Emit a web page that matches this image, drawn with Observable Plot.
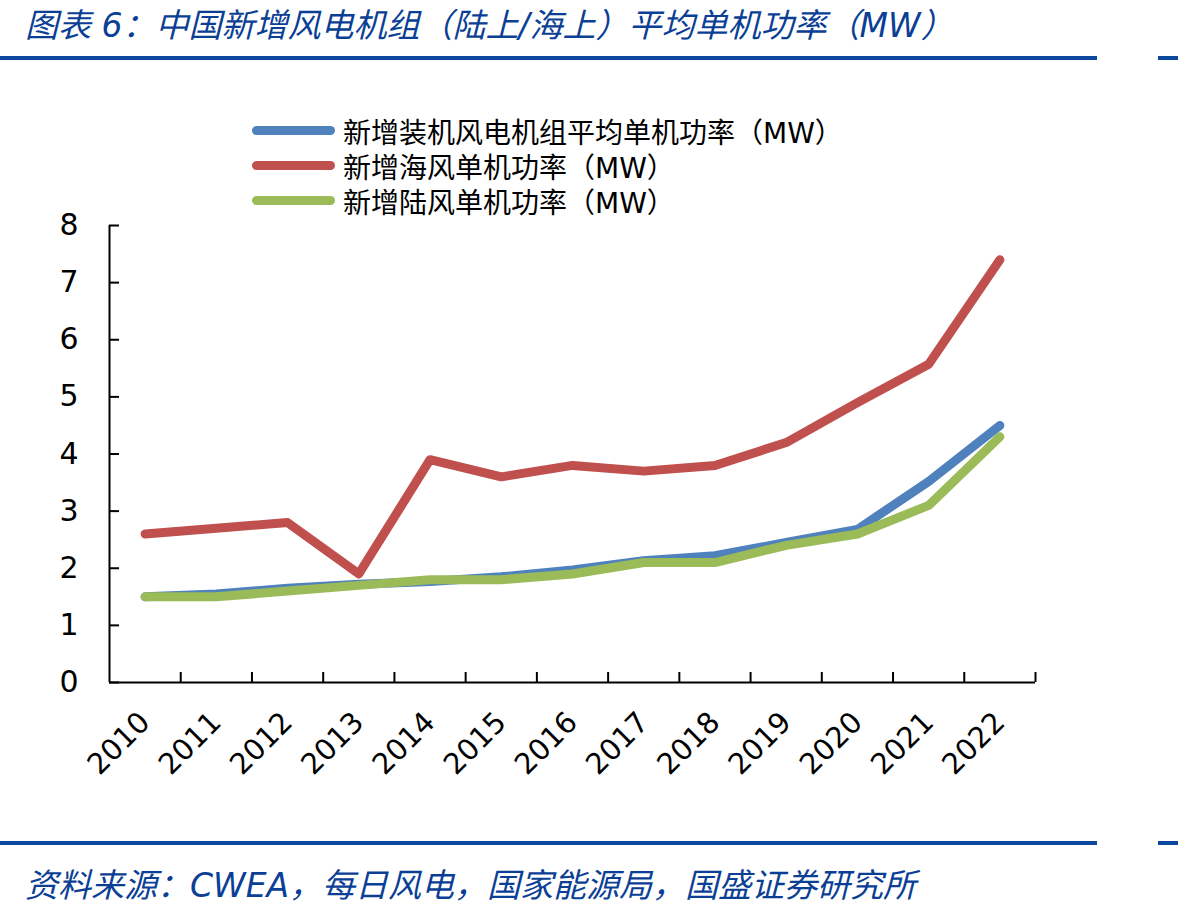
<!DOCTYPE html>
<html>
<head>
<meta charset="utf-8">
<script src="https://cdn.jsdelivr.net/npm/d3@7"></script>
<script src="https://cdn.jsdelivr.net/npm/@observablehq/plot@0.6"></script>
<style>
  html, body { margin: 0; padding: 0; background: #fff; }
  #page { position: relative; width: 1178px; height: 914px; overflow: hidden;
          font-family: "DejaVu Sans", "Noto Sans CJK SC", sans-serif; }
  #chart { position: absolute; left: 0; top: 0; }
  .title, .source { position: absolute; left: 25px; color: #0b3f95; font-style: italic;
          white-space: nowrap; font-family: "DejaVu Sans", "Noto Sans CJK SC", sans-serif; }
  .title { top: -1px; font-size: 33px; }
  .source { top: 859px; font-size: 33px; }
  .rule { position: absolute; height: 4px; background: #0b479d; }
  #legend { position: absolute; left: 252px; top: 113px; font-size: 28px; color: #000; }
  #legend .row { display: flex; align-items: center; height: 35px; white-space: nowrap; }
  #legend .swatch { width: 83px; height: 9px; border-radius: 5px; margin-right: 8px; }
</style>
</head>
<body>
<div id="page">
  <div id="chart"></div>
  <div class="title">图表 6：中国新增风电机组（陆上/海上）平均单机功率（MW）</div>
  <div class="rule" style="left:0; top:56px; width:1097px;"></div>
  <div class="rule" style="left:1158px; top:56px; width:20px;"></div>
  <div class="rule" style="left:0; top:841px; width:1097px;"></div>
  <div class="rule" style="left:1158px; top:841px; width:20px;"></div>
  <div class="source">资料来源：CWEA，每日风电，国家能源局，国盛证券研究所</div>
  <div id="legend"></div>
</div>
<script>
// Years on the x axis
const years = [2010, 2011, 2012, 2013, 2014, 2015, 2016, 2017, 2018, 2019, 2020, 2021, 2022];

// Average rated power of newly installed turbines (MW)
const totalAvg   = [1.50, 1.55, 1.65, 1.72, 1.77, 1.85, 1.97, 2.13, 2.22, 2.45, 2.68, 3.52, 4.50];
const offshore   = [2.60, 2.70, 2.80, 1.90, 3.90, 3.60, 3.80, 3.70, 3.80, 4.20, 4.90, 5.57, 7.40];
const onshore    = [1.50, 1.50, 1.60, 1.70, 1.80, 1.80, 1.90, 2.10, 2.10, 2.40, 2.60, 3.10, 4.30];

// Series names and colours
const seriesNames  = ["新增装机风电机组平均单机功率（MW）", "新增海风单机功率（MW）", "新增陆风单机功率（MW）"];
const seriesColors = ["#4f81bd", "#c0504d", "#9bbb59"];

// Y axis ticks
const yTicks = [0, 1, 2, 3, 4, 5, 6, 7, 8];

const seriesValues = [totalAvg, offshore, onshore];
const rows = seriesNames.flatMap((name, i) =>
  years.map((year, j) => ({ series: name, year, value: seriesValues[i][j] })));

const xDomain = [years[0] - 0.5, years[years.length - 1] + 0.5];
const bandEdges = years.map(y => y + 0.5);

const lineMark = (i) => Plot.line(rows.filter(d => d.series === seriesNames[i]), {
  x: "year", y: "value", stroke: seriesColors[i], strokeWidth: 9,
  strokeLinecap: "round", strokeLinejoin: "round"
});

const chart = Plot.plot({
  width: 1178,
  height: 914,
  marginLeft: 109,
  marginRight: 143,
  marginTop: 225,
  marginBottom: 232,
  style: { fontFamily: "DejaVu Sans, sans-serif", color: "#000", background: "transparent" },
  x: { domain: xDomain, axis: null },
  y: { domain: [0, 8], axis: null },
  marks: [
    // axis lines
    Plot.ruleX([xDomain[0]], { stroke: "#000", strokeWidth: 2 }),
    Plot.ruleY([0], { stroke: "#000", strokeWidth: 2 }),
    // inward ticks
    Plot.axisY({ ticks: yTicks, tickSize: -10, fill: "none", stroke: "#000", strokeWidth: 2, label: null }),
    Plot.axisY({ ticks: yTicks, tickSize: 0, tickPadding: 31, fontSize: 30, fill: "#000",
                 tickFormat: d => String(d), label: null }),
    Plot.axisX({ ticks: bandEdges, tickSize: -10, fill: "none", stroke: "#000", strokeWidth: 2, label: null }),
    Plot.axisX({ ticks: years, tickSize: 0, tickPadding: 35, tickRotate: -45, fontSize: 29,
                 fill: "#000", tickFormat: d => String(d), label: null }),
    // series lines
    lineMark(0),
    lineMark(1),
    lineMark(2)
  ]
});
document.getElementById("chart").appendChild(chart);

// Legend
const legend = document.getElementById("legend");
seriesNames.forEach((name, i) => {
  const row = document.createElement("div");
  row.className = "row";
  const sw = document.createElement("span");
  sw.className = "swatch";
  sw.style.background = seriesColors[i];
  const label = document.createElement("span");
  label.textContent = name;
  row.appendChild(sw);
  row.appendChild(label);
  legend.appendChild(row);
});
</script>
</body>
</html>
